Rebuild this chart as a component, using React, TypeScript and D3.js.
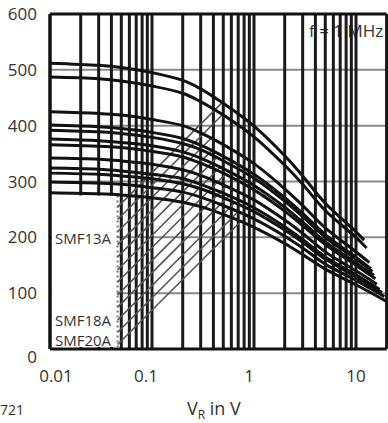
import React from "react";
import * as d3 from "d3";

const W = 388;
const H = 423;

// Reverse voltage sample points (V)
const V_POINTS = [0.01, 0.03, 0.05, 0.1, 0.2, 0.3, 0.5, 1, 2, 3, 5, 10];

// Capacitance curves (pF) read at V_POINTS, top to bottom
const C1 = [512, 508, 504, 495, 481, 466, 440, 399, 346, 310, 261, 210];
const C2 = [487, 484, 480, 471, 458, 443, 419, 380, 329, 295, 248, 200];
const C3 = [425, 422, 419, 411, 400, 387, 366, 332, 287, 257, 217, 174];
const C4 = [401, 398, 395, 388, 377, 365, 345, 313, 271, 243, 205, 164];
const C5 = [392, 389, 386, 379, 368, 357, 337, 306, 265, 237, 200, 161];
const C6 = [376, 373, 370, 364, 353, 342, 323, 293, 254, 227, 192, 154];
const C7 = [366, 363, 361, 354, 344, 333, 315, 285, 247, 221, 187, 150];
const C8 = [342, 340, 337, 331, 321, 311, 294, 267, 231, 207, 174, 140];
const C9 = [324, 322, 319, 313, 305, 295, 279, 253, 219, 196, 165, 133];
const C10 = [315, 313, 310, 305, 296, 287, 271, 246, 213, 191, 161, 129];
const C11 = [299, 297, 295, 289, 281, 272, 257, 233, 202, 181, 152, 123];
const C12 = [280, 278, 276, 271, 263, 255, 241, 218, 189, 169, 143, 115];
const CURVES = [C1, C2, C3, C4, C5, C6, C7, C8, C9, C10, C11, C12];

// End point of each curve (stand-off voltage, capacitance there)
const END_V = [12, 12.7, 13.5, 14, 14.5, 15, 15.5, 16, 17, 18, 19, 20];
const END_C = [195, 181, 155, 144, 139, 132, 126, 116, 107, 101, 94, 85];

// Leader / hatch lines: start at this voltage with these capacitances
const HATCH_V = 0.046;
const HATCH_C = [8, 30, 52, 75, 97, 120, 142, 165, 187, 210, 232, 254];

const Y_TICKS = [0, 100, 200, 300, 400, 500, 600];
const X_TICKS = [0.01, 0.1, 1, 10];
const X_TICK_LABELS = ["0.01", "0.1", "1", "10"];

const LABELS = ["SMF13A", "SMF18A", "SMF20A"];
const LABEL_C = [188, 42, 6];

const FONT = "'Open Sans', 'DejaVu Sans', sans-serif";

export default function App() {
  const left = 50;
  const right = 386.7;
  const top = 14;
  const bottom = 349;

  const x = d3.scaleLog().domain([0.01, 20]).range([left, right]);
  const y = d3.scaleLinear().domain([0, 600]).range([bottom, top]);

  const vGrid: number[] = [];
  [0.01, 0.1, 1, 10].forEach((dec) => {
    for (let m = 1; m <= 9; m++) {
      const v = dec * m;
      if (v <= 20.0001) vGrid.push(v);
    }
  });
  vGrid.push(20);

  const curvePts = CURVES.map((c, i) => {
    const pts: [number, number][] = c.map((v, j) => [x(V_POINTS[j]), y(v)]);
    pts.push([x(END_V[i]), y(END_C[i])]);
    return pts;
  });

  const line = d3
    .line<[number, number]>()
    .x((d) => d[0])
    .y((d) => d[1])
    .curve(d3.curveCatmullRom.alpha(0.5));

  const interpY = (pts: [number, number][], px: number) => {
    for (let i = 0; i < pts.length - 1; i++) {
      if (px >= pts[i][0] && px <= pts[i + 1][0]) {
        const t = (px - pts[i][0]) / (pts[i + 1][0] - pts[i][0]);
        return pts[i][1] + t * (pts[i + 1][1] - pts[i][1]);
      }
    }
    return pts[pts.length - 1][1];
  };
  const hatch = HATCH_C.map((c, k) => {
    const x0 = x(HATCH_V);
    const y0 = y(c);
    const target = curvePts[CURVES.length - 1 - k];
    let px = x0;
    while (px < right) {
      const ly = y0 - (px - x0);
      if (ly <= interpY(target, px)) break;
      px += 0.5;
    }
    return { x0, y0, x1: px, y1: y0 - (px - x0) };
  });

  const boxX0 = left + 2;
  const boxX1 = x(HATCH_V) - 1;
  const boxY0 = y(275);
  const boxY1 = bottom - 2;

  const labelDx = [6, -6, -5, 0];

  return (
    <svg
      width={W}
      height={H}
      style={{ position: "absolute", left: 0, top: 0, background: "#fff" }}
      fontFamily={FONT}
    >
      <rect x={0} y={0} width={W} height={H} fill="#fff" />
      <text x={309} y={37} fontSize={17} fill="#333">
        f = 1 MHz
      </text>

      {Y_TICKS.filter((t) => t > 0 && t < 600).map((t) => (
        <line
          key={"h" + t}
          x1={left}
          x2={right}
          y1={y(t)}
          y2={y(t)}
          stroke="#8a8a8a"
          strokeWidth={2}
        />
      ))}

      {vGrid.map((v, i) => (
        <line
          key={"v" + i}
          x1={x(v)}
          x2={x(v)}
          y1={top}
          y2={bottom}
          stroke="#1a1a1a"
          strokeWidth={3}
        />
      ))}

      <rect x={boxX0} y={boxY0} width={boxX1 - boxX0} height={boxY1 - boxY0} fill="#fff" />
      {LABELS.map((l, i) => (
        <text key={l} x={55} y={y(LABEL_C[i])} fontSize={15} fill="#333">
          {l}
        </text>
      ))}

      <line
        x1={x(HATCH_V)}
        x2={x(HATCH_V)}
        y1={boxY0}
        y2={boxY1}
        stroke="#777"
        strokeWidth={2}
        strokeDasharray="2,3"
      />
      {hatch.map((h, i) => (
        <line
          key={"ht" + i}
          x1={h.x0}
          y1={h.y0}
          x2={h.x1}
          y2={h.y1}
          stroke="#555"
          strokeWidth={1.6}
        />
      ))}

      {curvePts.map((p, i) => (
        <path key={"c" + i} d={line(p) || ""} fill="none" stroke="#111" strokeWidth={3} />
      ))}

      <line x1={left} x2={right} y1={top} y2={top} stroke="#111" strokeWidth={3} />
      <line x1={left} x2={right} y1={bottom} y2={bottom} stroke="#111" strokeWidth={3} />
      <line x1={left} x2={left} y1={top} y2={bottom} stroke="#111" strokeWidth={3} />

      {Y_TICKS.map((t) => (
        <text
          key={"yl" + t}
          x={37}
          y={y(t) + (t === 0 ? 14 : 6)}
          fontSize={17}
          textAnchor="end"
          fill="#333"
        >
          {t}
        </text>
      ))}

      {X_TICKS.map((t, i) => (
        <text
          key={"xl" + t}
          x={x(t) + labelDx[i]}
          y={382}
          fontSize={17}
          textAnchor="middle"
          fill="#333"
        >
          {X_TICK_LABELS[i]}
        </text>
      ))}

      <text x={0} y={415} fontSize={14} fill="#333">
        721
      </text>
      <text x={187} y={415} fontSize={18} fill="#333">
        V
        <tspan fontSize={12} dy={4}>
          R
        </tspan>
        <tspan dy={-4}> in V</tspan>
      </text>
    </svg>
  );
}
